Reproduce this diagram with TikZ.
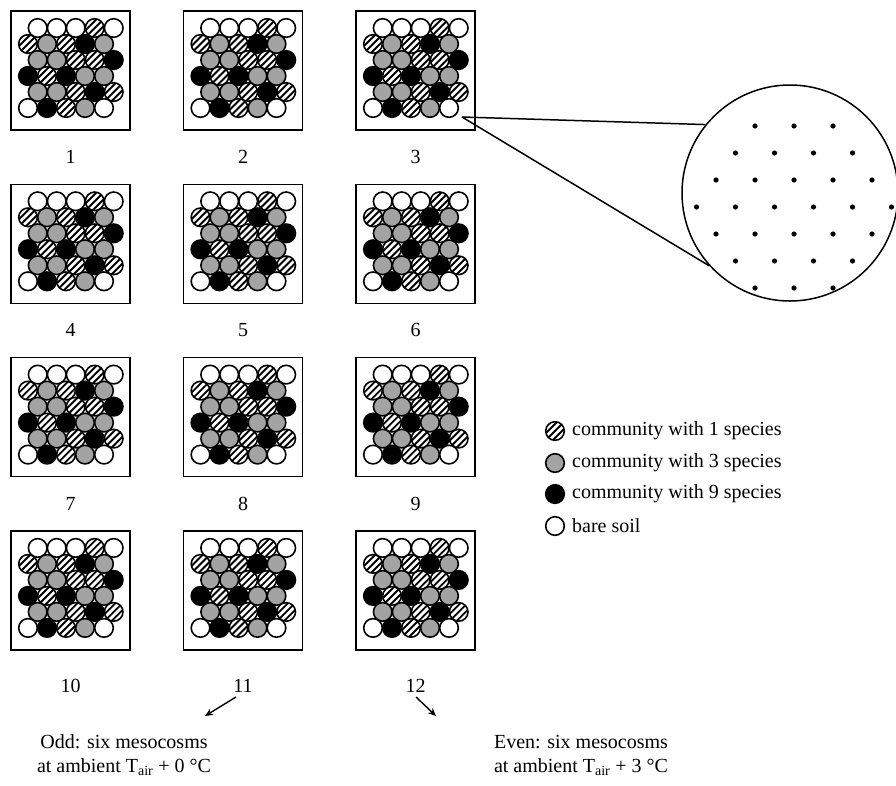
\documentclass[tikz,border=0pt]{standalone}
\usepackage{fontspec}
\setmainfont{Liberation Serif}
\usetikzlibrary{calc,arrows.meta}
\definecolor{cellgray}{gray}{0.64}

\def\cellr{9.3}
\tikzset{
  cell/.style={draw=black,line width=1.6pt},
  panel/.style={draw=black,line width=1.6pt,minimum size=119pt,inner sep=0pt,outer sep=0pt},
  lab/.style={font=\fontsize{20}{22}\selectfont,inner sep=0pt},
  note/.style={font=\fontsize{20}{24}\selectfont,align=center,inner sep=0pt},
  keytext/.style={font=\fontsize{20}{22}\selectfont,anchor=west,inner sep=0pt},
  pointer/.style={line width=1.4pt,-{Stealth[length=8pt,width=7pt]}},
  lensline/.style={line width=1.5pt},
  dot/.style={fill=black}
}

% one planting position of each kind
\newcommand\cellW[1]{\draw[cell,fill=white] #1 circle (\cellr);}
\newcommand\cellG[1]{\draw[cell,fill=cellgray] #1 circle (\cellr);}
\newcommand\cellB[1]{\draw[cell,fill=black] #1 circle (\cellr);}
\newcommand\cellH[1]{%
  \begin{scope}[shift={#1}]
    \fill[white] (0,0) circle (\cellr);
    \begin{scope}
      \clip (0,0) circle (\cellr);
      \foreach \k in {-3,...,3}
        \draw[line width=1.9pt] (\k*3.5-12,\k*3.5+12) -- ++(24,-24);
    \end{scope}
    \draw[cell] (0,0) circle (\cellr);
  \end{scope}}

% a mesocosm: frame plus the hexagonal planting layout
\newcommand\mesocosm[2]{%
  \node[panel,anchor=north west] (#1) at #2 {};
  \begin{scope}[shift={(#1.north west)}]
    \foreach \r/\codes in {0/{W,W,W,H,W},1/{H,G,H,B,G},2/{G,G,H,H,B},
                           3/{B,H,B,G,G},4/{G,G,H,B,H},5/{W,B,H,G,W}}{
      \foreach \c [count=\i from 0] in \codes {
        \pgfmathsetmacro\cx{(isodd(\r) ? 17 : 26.7) + 19*\i}
        \pgfmathsetmacro\cy{17+16*\r}
        \csname cell\c\endcsname{(\cx,\cy)}
      }
    }
  \end{scope}}

\begin{document}
\begin{tikzpicture}[x=1pt,y=-1pt]
\useasboundingbox (0,0) rectangle (896,785);

% the twelve mesocosms with their numbers
\foreach \n/\col/\row in {1/0/0,2/1/0,3/2/0,4/0/1,5/1/1,6/2/1,
                          7/0/2,8/1/2,9/2/2,10/0/3,11/1/3,12/2/3}{
  \pgfmathsetmacro\px{11+172.5*\col}
  \pgfmathsetmacro\py{11+173.3*\row}
  \mesocosm{m\n}{(\px,\py)}
  \pgfmathsetmacro\gap{\row==3 ? 36 : 27}
  \node[lab] (l\n) at ($(m\n.south)+(0,\gap)$) {\n};
}

% magnified view of one planting position
\coordinate (src) at (462,117);
\node[draw,circle,line width=1.5pt,minimum size=216pt,inner sep=0pt] (lens) at (790,193) {};
\draw[lensline] (src) -- (lens.141);
\draw[lensline] (src) -- (lens.222);
\foreach \y/\n in {0/3,1/4,2/5,3/6,4/5,5/4,6/3}{
  \foreach \j in {1,...,\n}{
    \fill[dot] ({794+39*(\j-(\n+1)/2)},{126+27*\y}) circle (2.6);
  }
}

% legend
\cellH{(555,431)}
\cellG{(555,463)}
\cellB{(555,494)}
\cellW{(555,526)}
\node[keytext] (k1) at (572,431) {community with 1 species};
\node[keytext] (k2) at (572,463) {community with 3 species};
\node[keytext] (k3) at (572,494) {community with 9 species};
\node[keytext] (k4) at (572,526) {bare soil};

% treatments
\coordinate (oddtail) at (236,697);
\coordinate (oddhead) at (205,716);
\coordinate (eventail) at (416,697);
\coordinate (evenhead) at (436,716);
\draw[pointer] (oddtail) -- (oddhead);
\draw[pointer] (eventail) -- (evenhead);
\node[note] (odd) at (124,755) {Odd: six mesocosms\\at ambient T\textsubscript{air} + 0 °C};
\node[note] (even) at (581,755) {Even: six mesocosms\\at ambient T\textsubscript{air} + 3 °C};
\end{tikzpicture}
\end{document}
